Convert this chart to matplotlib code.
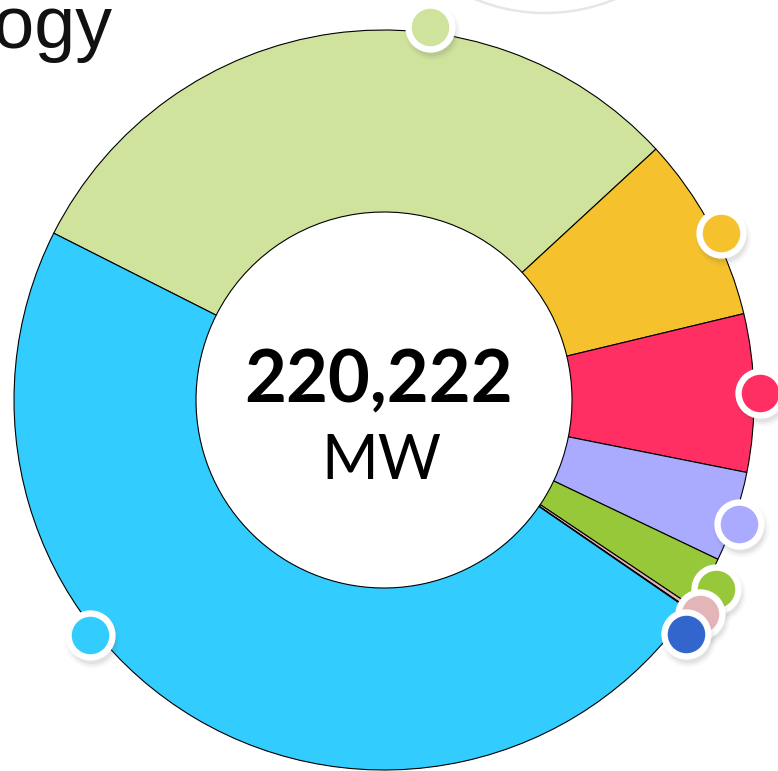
import numpy as np
import matplotlib
matplotlib.use("Agg")
import matplotlib.pyplot as plt
from matplotlib.patches import Circle

# Installed capacity by technology (MW), clockwise order
technologies = ["Wind", "Solar", "Coal", "Nuclear", "Hydro", "Biomass", "Storage", "Natural Gas"]
capacity_mw = [67600, 17860, 15170, 8690, 5080, 370, 60, 105392]
colors = ["#CFE39D", "#F5C22E", "#FF2E63", "#AAAAFF", "#97C83A", "#E3B5B8", "#3366CC", "#33CCFF"]
total_label = "220,222"
unit_label = "MW"
title = "Capacity by Technology"

W, H = 778, 771
fig = plt.figure(figsize=(W / 100, H / 100), dpi=100)
ax = fig.add_axes([0, 0, 1, 1])

cx, cy = 384, 371
R = 370
start = 153.2

ax.pie(capacity_mw, colors=colors, startangle=start, counterclock=False,
       center=(cx, cy), radius=R,
       wedgeprops=dict(width=R - 188, edgecolor="black", linewidth=0.8))
ax.set_xlim(0, W)
ax.set_ylim(0, H)
ax.set_aspect("equal")
ax.axis("off")

# marker angles: mid of each slice (large slices sit a bit further along)
total = sum(capacity_mw)
spans = np.array(capacity_mw) / total * 360
starts = start - np.concatenate([[0], np.cumsum(spans)[:-1]])
frac = [0.635, 0.56, 0.5, 0.56, 0.5, 0.5, 0.5, 0.62]
angles = [s - f * sp for s, f, sp in zip(starts, frac, spans)]
# spread overlapping markers
min_sep = 3.6
for i in range(1, len(angles) - 1):
    if angles[i] > angles[i - 1] - min_sep:
        angles[i] = angles[i - 1] - min_sep

for k, (a, c) in enumerate(zip(angles, colors)):
    rd = R + (12 if spans[k] < 10 and k < len(spans) - 1 else 6)
    x = cx + rd * np.cos(np.radians(a))
    y = cy + rd * np.sin(np.radians(a))
    for s, al in [(1600, 0.04), (1350, 0.06), (1150, 0.08)]:
        ax.scatter(x + 2, y - 5, s=s, color="#555555", alpha=al, linewidths=0, zorder=5 + 2 * k)
    ax.scatter(x, y, s=1000, color=c, edgecolors="white", linewidths=4.6, zorder=6 + 2 * k)

ax.text(cx - 5, 771 - 402, total_label, ha="center", va="baseline",
        fontsize=52, fontweight="bold", family="Lato", color="black")
ax.text(cx - 3, 771 - 479, unit_label, ha="center", va="baseline",
        fontsize=44, family="Lato", color="black")

# title (cropped at the left edge, as in the source view)
ax.text(112, 771 - 48, title, ha="right", va="baseline", fontsize=53,
        family="Liberation Sans", color="#111111")

# faint ring of a button above the chart
ax.add_patch(Circle((545, 771 + 171), 184, fill=False, edgecolor="#E6E6E6", linewidth=1.8))

fig.savefig("out.png", dpi=100)
